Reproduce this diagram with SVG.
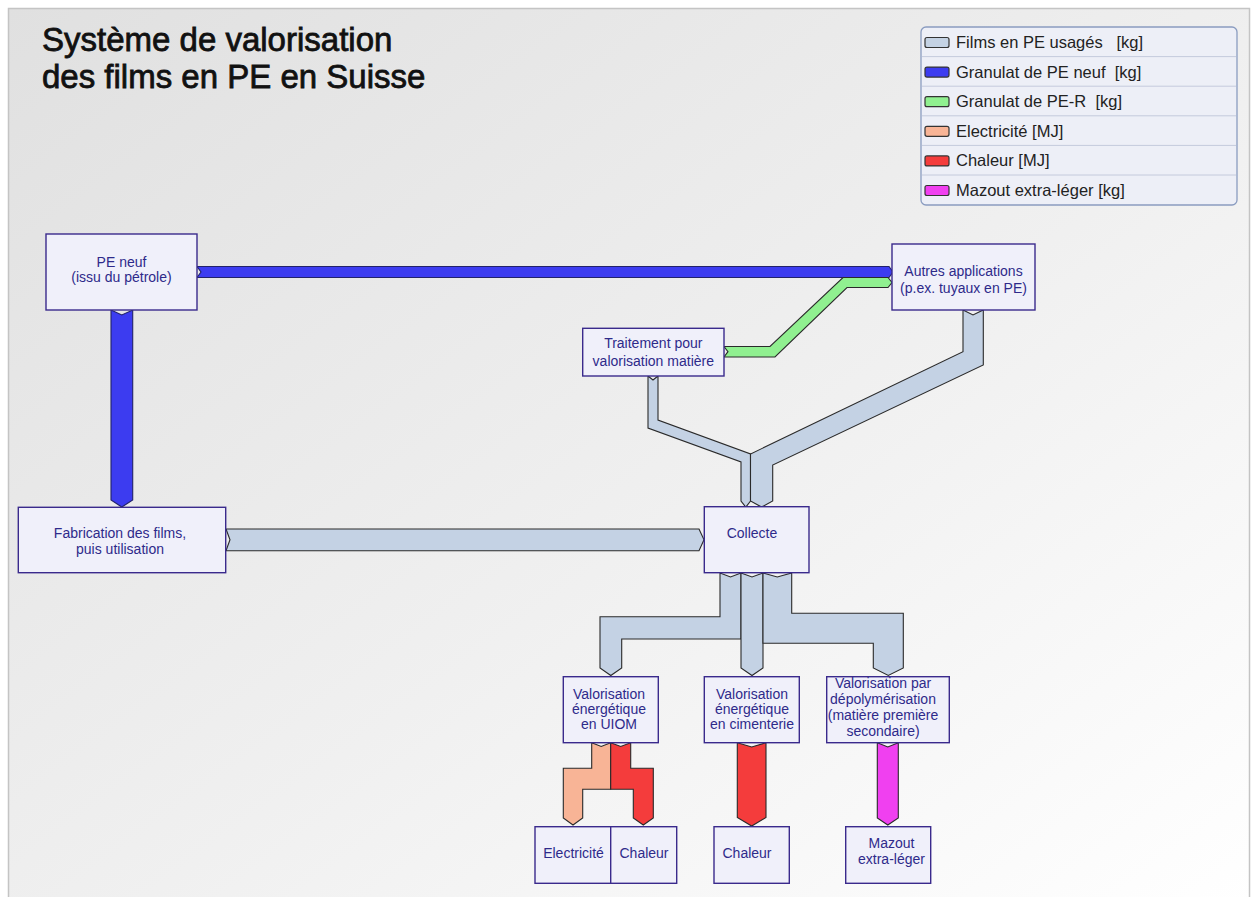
<svg xmlns="http://www.w3.org/2000/svg" width="1256" height="897" viewBox="0 0 1256 897">
<defs>
<linearGradient id="bg" x1="0" y1="0" x2="1" y2="1">
<stop offset="0" stop-color="#e0e0e0"/>
<stop offset="0.55" stop-color="#f0f0f0"/>
<stop offset="1" stop-color="#ffffff"/>
</linearGradient>
<style>
.node rect{fill:#f0f0fa;stroke:#3a2a8c;stroke-width:1.4}
.node text{font-family:"Liberation Sans",Arial,sans-serif;font-size:14px;fill:#2e2a8a;text-anchor:middle}
.flow{stroke:#2a2a2a;stroke-width:1.1;stroke-linejoin:miter}
.gray{fill:#c4d2e4}
.blue{fill:#3c3cf0;stroke:#22226a}
.green{fill:#90f090}
.salmon{fill:#f8b496}
.red{fill:#f43c3c}
.mag{fill:#f040f0}
.leg text{font-family:"Liberation Sans",Arial,sans-serif;font-size:16.5px;fill:#222;white-space:pre}
.sw{stroke:#333;stroke-width:1.2}
.sep{stroke:#c4cadc;stroke-width:1}
</style>
</defs>
<rect x="0" y="0" width="1256" height="897" fill="#ffffff"/>
<rect x="8.5" y="8.5" width="1241" height="900" fill="url(#bg)" stroke="#c4c4c4" stroke-width="1.5"/>

<g id="title" font-family="Liberation Sans, Arial, sans-serif" font-size="33" fill="#111" stroke="#111" stroke-width="0.8">
<text x="42" y="51">Système de valorisation</text>
<text x="42" y="88">des films en PE en Suisse</text>
</g>

<g id="legend" class="leg">
<rect x="921" y="27" width="316" height="178" rx="5" fill="#edeff7" stroke="#8a9cc0" stroke-width="1.3"/>
<line class="sep" x1="922" y1="56.6" x2="1236" y2="56.6"/>
<line class="sep" x1="922" y1="86.2" x2="1236" y2="86.2"/>
<line class="sep" x1="922" y1="115.8" x2="1236" y2="115.8"/>
<line class="sep" x1="922" y1="145.4" x2="1236" y2="145.4"/>
<line class="sep" x1="922" y1="175" x2="1236" y2="175"/>
<rect class="sw gray" x="925" y="37.5" width="24" height="10" rx="2"/>
<rect class="sw" fill="#3c3cf0" x="925" y="67.1" width="24" height="10" rx="2"/>
<rect class="sw green" x="925" y="96.7" width="24" height="10" rx="2"/>
<rect class="sw salmon" x="925" y="126.3" width="24" height="10" rx="2"/>
<rect class="sw red" x="925" y="155.9" width="24" height="10" rx="2"/>
<rect class="sw mag" x="925" y="185.5" width="24" height="10" rx="2"/>
<text x="956" y="48">Films en PE usagés   [kg]</text>
<text x="956" y="77.6">Granulat de PE neuf  [kg]</text>
<text x="956" y="107.2">Granulat de PE-R  [kg]</text>
<text x="956" y="136.8">Electricité [MJ]</text>
<text x="956" y="166.4">Chaleur [MJ]</text>
<text x="956" y="196">Mazout extra-léger [kg]</text>
</g>

<g id="connectors">
<path id="f-peneuf-autres" class="flow blue" d="M197,266.5 L889,266.5 L893,272 L889,277.5 L197,277.5 L201,272 Z"/>
<path id="f-peneuf-fab" class="flow blue" d="M111,310 L121.8,315 L132.7,310 L132.7,500 L121.8,507 L111,500 Z"/>
<path id="f-fab-collecte" class="flow gray" d="M226,529 L699,529 L704,539.8 L699,550.7 L226,550.7 L230,539.8 Z"/>
<path id="f-trait-autres" class="flow green" d="M724,346.5 L770,346.5 L843,277.5 L888,277.5 L892,282.5 L888,287.5 L847,287.5 L775,357 L724,357 L728,351.7 Z"/>
<path id="f-trait-collecte" class="flow gray" d="M648,376 L653,380 L658,376 L658,420 L750.5,454 L750.5,501 L745.8,507 L741,501 L741,462 L648,428 Z"/>
<path id="f-autres-collecte" class="flow gray" d="M963,310 L973,315 L983.3,310 L983.3,365 L772.7,465 L772.7,501 L761.6,507 L750.5,501 L750.5,454 L963,351.7 Z"/>
<path id="f-collecte-uiom" class="flow gray" d="M720,573 L730.5,577 L741,573 L741,639 L621.7,639 L621.7,668 L610.8,675.5 L600,668 L600,616.7 L720,616.7 Z"/>
<path id="f-collecte-ciment" class="flow gray" d="M741,573 L752,577 L763,573 L763,668 L752,675.5 L741,668 Z"/>
<path id="f-collecte-depoly" class="flow gray" d="M763,573 L777.3,577 L791.7,573 L791.7,613.3 L903.3,613.3 L903.3,668 L888.3,675.5 L873.3,668 L873.3,643.3 L763,643.3 Z"/>
<path id="f-uiom-elec" class="flow salmon" d="M591.7,742.7 L601.2,746.5 L610.7,742.7 L610.7,789.3 L582.7,789.3 L582.7,818 L573,825 L563.3,818 L563.3,768.3 L591.7,768.3 Z"/>
<path id="f-uiom-chal" class="flow red" d="M610.7,742.7 L620.7,746.5 L630.7,742.7 L630.7,768.3 L653.3,768.3 L653.3,818 L643.3,825 L633.3,818 L633.3,789.3 L610.7,789.3 Z"/>
<path id="f-ciment-chal" class="flow red" d="M737.3,742.7 L751.7,747 L766,742.7 L766,817.5 L751.7,826 L737.3,817.5 Z"/>
<path id="f-depoly-mazout" class="flow mag" d="M877.3,742.7 L887.8,747 L898.3,742.7 L898.3,818 L887.8,825 L877.3,818 Z"/>
</g>

<g id="n-peneuf" class="node">
<rect x="46" y="234" width="151" height="76"/>
<text x="121.5" y="267">PE neuf</text>
<text x="121.5" y="282">(issu du pétrole)</text>
</g>
<g id="n-autres" class="node">
<rect x="892" y="244" width="143" height="66"/>
<text x="963.5" y="276">Autres applications</text>
<text x="963.5" y="293">(p.ex. tuyaux en PE)</text>
</g>
<g id="n-traitement" class="node">
<rect x="582.7" y="328.3" width="141.3" height="47.7"/>
<text x="653.3" y="348">Traitement pour</text>
<text x="653.3" y="366">valorisation matière</text>
</g>
<g id="n-fabrication" class="node">
<rect x="18.3" y="507.3" width="207.4" height="65.4"/>
<text x="120" y="538">Fabrication des films,</text>
<text x="120" y="554">puis utilisation</text>
</g>
<g id="n-collecte" class="node">
<rect x="704.3" y="506.7" width="104.7" height="66"/>
<text x="752" y="538">Collecte</text>
</g>
<g id="n-uiom" class="node">
<rect x="563.3" y="676.7" width="95" height="66"/>
<text x="609" y="699">Valorisation</text>
<text x="609" y="714">énergétique</text>
<text x="609" y="729">en UIOM</text>
</g>
<g id="n-ciment" class="node">
<rect x="704.3" y="676.7" width="95" height="66"/>
<text x="752" y="699">Valorisation</text>
<text x="752" y="714">énergétique</text>
<text x="752" y="729">en cimenterie</text>
</g>
<g id="n-depoly" class="node">
<rect x="826.7" y="676.7" width="122.6" height="66"/>
<text x="883" y="688">Valorisation par</text>
<text x="883" y="704">dépolymérisation</text>
<text x="883" y="720">(matière première</text>
<text x="883" y="736">secondaire)</text>
</g>
<g id="n-elec" class="node">
<rect x="535" y="826.7" width="75.7" height="56.6"/>
<text x="573.5" y="858">Electricité</text>
</g>
<g id="n-chal1" class="node">
<rect x="610.7" y="826.7" width="66" height="56.6"/>
<text x="644" y="858">Chaleur</text>
</g>
<g id="n-chal2" class="node">
<rect x="714" y="826.7" width="75.3" height="56.6"/>
<text x="747" y="858">Chaleur</text>
</g>
<g id="n-mazout" class="node">
<rect x="845.7" y="826.7" width="85" height="56.6"/>
<text x="891.5" y="848">Mazout</text>
<text x="891.5" y="864">extra-léger</text>
</g>
</svg>
